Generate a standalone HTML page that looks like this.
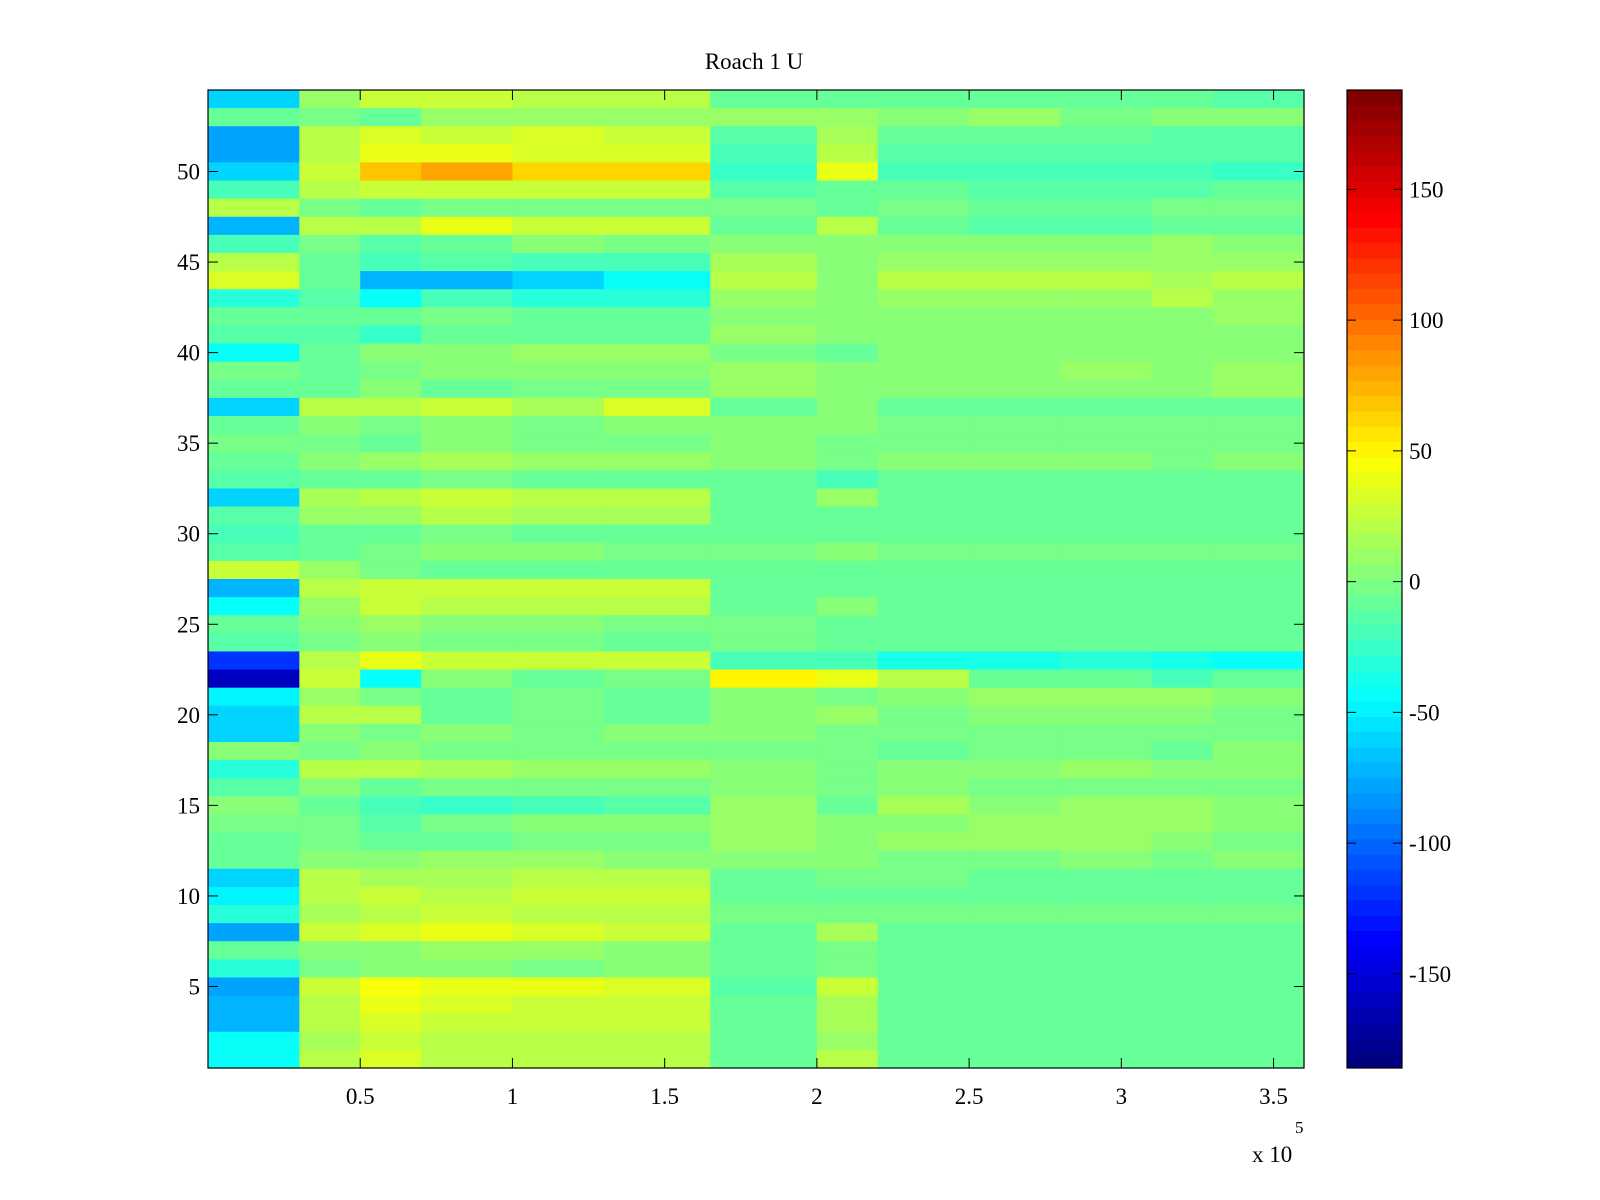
<!DOCTYPE html>
<html><head><meta charset="utf-8"><title>Roach 1 U</title>
<style>
html,body{margin:0;padding:0;background:#fff;}
svg{display:block;font-family:"Liberation Serif",serif;}
</style></head>
<body>
<svg id="chart" width="1600" height="1200" viewBox="0 0 1600 1200" xmlns="http://www.w3.org/2000/svg">
<rect width="1600" height="1200" fill="#fff"/>
<g id="cells"></g>
<g id="cbar"></g>
<g id="axes"></g>
<text x="754" y="69" font-size="23" text-anchor="middle">Roach 1 U</text>
<text x="1252" y="1162" font-size="23">x 10</text>
<text x="1295" y="1133" font-size="17">5</text>
</svg>
<script>
// x segment edges (units of 1e5)
const segEdges = [0,0.3,0.5,0.7,1.0,1.3,1.65,2.0,2.2,2.5,2.8,3.1,3.3,3.6];
// row values, listed from row 54 (top) down to row 1 (bottom)
const row54=[-60,10,25,25,20,20,-10,-5,-10,-10,-10,-10,-15];
const row53=[-10,0,-10,10,10,10,10,10,5,10,0,5,5];
const row52=[-80,20,35,30,35,30,-15,15,-10,-10,-10,-15,-15];
const row51=[-75,20,40,40,35,35,-20,20,-15,-15,-15,-15,-15];
const row50=[-60,30,70,80,60,60,-25,40,-20,-20,-20,-20,-25];
const row49=[-20,20,30,30,30,30,-15,-10,-10,-15,-15,-15,-10];
const row48=[20,0,-5,0,0,0,0,-5,0,-5,-5,0,0];
const row47=[-70,20,20,40,30,30,-10,20,-10,-15,-15,-10,-10];
const row46=[-20,0,-15,-5,5,0,5,5,5,5,5,10,5];
const row45=[20,-10,-20,-15,-20,-20,15,5,10,10,10,10,10];
const row44=[35,-10,-70,-70,-60,-45,20,5,20,20,20,15,20];
const row43=[-30,-15,-40,-20,-30,-30,10,5,10,10,10,20,10];
const row42=[-5,-5,-10,0,-10,-5,5,5,5,5,5,5,10];
const row41=[-15,-15,-25,-10,-10,-5,10,5,5,5,5,5,5];
const row40=[-40,-10,5,5,10,10,0,-10,5,5,5,5,5];
const row39=[0,-5,0,5,5,5,10,5,5,5,10,5,10];
const row38=[-5,-5,5,-5,0,0,10,5,5,5,5,5,10];
const row37=[-60,20,20,25,15,35,-5,5,-5,-5,-5,-5,-5];
const row36=[-10,5,0,5,0,5,5,5,0,0,0,0,0];
const row35=[0,0,-5,5,0,0,5,0,0,0,0,0,0];
const row34=[-5,5,10,15,10,10,5,0,5,5,5,0,5];
const row33=[-15,-5,-10,0,-5,-5,-10,-20,-5,-10,-5,-5,-10];
const row32=[-60,15,20,25,20,20,-5,10,-5,-5,-5,-5,-5];
const row31=[-15,10,10,20,15,15,-5,-10,-5,-5,-5,-5,-5];
const row30=[-20,-5,-5,0,-5,-5,-10,-5,-10,-10,-10,-10,-10];
const row29=[-15,-5,0,5,5,0,0,5,0,0,0,0,0];
const row28=[30,10,0,-5,-10,-10,-10,-5,-10,-10,-10,-10,-10];
const row27=[-70,20,30,30,30,30,-10,-5,-10,-10,-10,-10,-10];
const row26=[-40,10,25,20,20,20,-10,5,-10,-10,-10,-10,-10];
const row25=[-5,5,10,5,5,0,0,-5,-5,-5,-5,-5,-5];
const row24=[-15,0,5,0,0,-5,0,-5,-5,-5,-5,-5,-5];
const row23=[-120,20,40,30,30,30,-20,-20,-35,-35,-30,-35,-40];
const row22=[-160,30,-40,5,-10,0,50,40,20,-10,-10,-20,-10];
const row21=[-50,10,0,-5,0,-5,5,0,5,10,10,10,5];
const row20=[-60,20,20,-10,0,-5,5,10,0,5,5,5,0];
const row19=[-60,5,0,5,0,5,5,0,0,0,0,0,0];
const row18=[5,0,5,0,0,0,0,0,-5,0,0,-5,5];
const row17=[-30,20,20,15,10,10,5,0,5,5,10,5,5];
const row16=[-15,5,-5,0,0,0,5,0,5,0,0,0,0];
const row15=[5,-5,-20,-25,-20,-15,10,-5,15,5,10,10,5];
const row14=[0,0,-15,0,5,5,10,5,5,10,10,10,5];
const row13=[-10,0,-5,-5,0,0,10,5,10,10,10,5,0];
const row12=[-5,5,5,10,10,5,5,5,0,0,5,0,5];
const row11=[-60,20,15,15,20,20,-5,0,0,-5,-5,-5,-5];
const row10=[-50,20,30,20,30,25,-5,-5,-5,-5,-5,-5,-5];
const row9=[-30,15,20,25,20,20,0,0,0,0,0,0,0];
const row8=[-75,25,35,40,35,30,-10,15,-5,-10,-5,-5,-5];
const row7=[-10,5,5,10,10,5,-5,0,-5,-5,-5,-5,-5];
const row6=[-30,0,5,5,0,5,-10,0,-10,-10,-10,-10,-10];
const row5=[-80,25,45,40,40,35,-15,25,-10,-10,-10,-10,-10];
const row4=[-70,20,40,35,30,30,-10,15,-10,-10,-5,-10,-10];
const row3=[-70,20,35,30,30,25,-5,15,-5,-5,-5,-5,-5];
const row2=[-40,15,25,20,20,20,-10,10,-10,-10,-10,-5,-10];
const row1=[-40,20,35,20,20,20,-10,20,-10,-10,-10,-10,-10];
const rowsTopDown=[row54,row53,row52,row51,row50,row49,row48,row47,row46,row45,row44,row43,row42,row41,row40,row39,row38,row37,row36,row35,row34,row33,row32,row31,row30,row29,row28,row27,row26,row25,row24,row23,row22,row21,row20,row19,row18,row17,row16,row15,row14,row13,row12,row11,row10,row9,row8,row7,row6,row5,row4,row3,row2,row1];
const xTicks=[0.5,1,1.5,2,2.5,3,3.5];
const xTickLabels=["0.5","1","1.5","2","2.5","3","3.5"];
const yTicks=[5,10,15,20,25,30,35,40,45,50];
const cTicks=[-150,-100,-50,0,50,100,150];
const cLim=[-186,188];

const NS="http://www.w3.org/2000/svg";
const PL=208,PR=1304,PT=90,PB=1068;
const CL=1347,CR=1402;
const xS=v=>PL+(v-0)/(3.6-0)*(PR-PL);
const yS=r=>PB-(r-0.5)/54*(PB-PT);
const cS=v=>PB-(v-cLim[0])/(cLim[1]-cLim[0])*(PB-PT);
function jet(t){t=Math.max(0,Math.min(1,t));
 const f=x=>Math.max(0,Math.min(1,x));
 const r=f(1.5-Math.abs(4*t-3)),g=f(1.5-Math.abs(4*t-2)),b=f(1.5-Math.abs(4*t-1));
 return `rgb(${Math.round(r*255)},${Math.round(g*255)},${Math.round(b*255)})`;}
function colorOf(v){const t=(v-cLim[0])/(cLim[1]-cLim[0]);return jet(Math.floor(t*64)/63);}
function mk(tag,attrs,parent){const e=document.createElementNS(NS,tag);for(const k in attrs)e.setAttribute(k,attrs[k]);parent.appendChild(e);return e;}

const cells=document.getElementById('cells');
const nRows=rowsTopDown.length;
rowsTopDown.forEach((vals,i)=>{
  const r=nRows-i;
  vals.forEach((v,j)=>{
    const x0=xS(segEdges[j]),x1=xS(segEdges[j+1]);
    const el=mk('rect',{x:x0,y:yS(r+0.5),width:x1-x0+0.6,height:yS(r-0.5)-yS(r+0.5)+0.6,fill:colorOf(v)},cells);
    
    
  });
});

const cbar=document.getElementById('cbar');
for(let k=0;k<64;k++){
  const v0=cLim[0]+k*(cLim[1]-cLim[0])/64, v1=cLim[0]+(k+1)*(cLim[1]-cLim[0])/64;
  const el=mk('rect',{x:CL,y:cS(v1),width:CR-CL,height:cS(v0)-cS(v1)+0.5,fill:jet(k/63)},cbar);
  
  
}
const cfr=mk('rect',{x:CL,y:PT,width:CR-CL,height:PB-PT,fill:'none',stroke:'#000','stroke-width':1.2},cbar);


cTicks.forEach(v=>{
  const y=cS(v);
  mk('line',{x1:CL,x2:CL+9,y1:y,y2:y,stroke:'#000'},cbar);
  mk('line',{x1:CR-9,x2:CR,y1:y,y2:y,stroke:'#000'},cbar);
  const t=mk('text',{x:1409,y:y+8,'font-size':23},cbar);
  t.textContent=String(v);
  
  
});

const axes=document.getElementById('axes');
const fr=mk('rect',{x:PL,y:PT,width:PR-PL,height:PB-PT,fill:'none',stroke:'#000','stroke-width':1.2},axes);


xTicks.forEach((v,i)=>{
  const x=xS(v);
  mk('line',{x1:x,x2:x,y1:PB,y2:PB-10,stroke:'#000'},axes);
  mk('line',{x1:x,x2:x,y1:PT,y2:PT+10,stroke:'#000'},axes);
  const t=mk('text',{x:x,y:1104,'font-size':23,'text-anchor':'middle'},axes);
  t.textContent=xTickLabels[i];
  
  
});
yTicks.forEach(v=>{
  const y=yS(v);
  mk('line',{x1:PL,x2:PL+10,y1:y,y2:y,stroke:'#000'},axes);
  mk('line',{x1:PR-10,x2:PR,y1:y,y2:y,stroke:'#000'},axes);
  const t=mk('text',{x:200,y:y+8,'font-size':23,'text-anchor':'end'},axes);
  t.textContent=String(v);
  
  
});
</script>
</body></html>
